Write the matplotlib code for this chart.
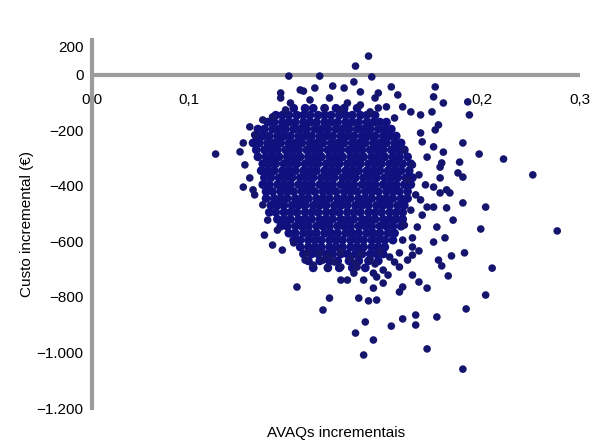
import matplotlib
matplotlib.use("Agg")
import matplotlib.pyplot as plt

plt.rcParams['font.family'] = ['Liberation Sans', 'DejaVu Sans']

# ---- data ----
# dense core, row by row: incremental cost (row) and incremental QALYs
core_y = [-120, -145, -170, -195, -220, -245, -270, -295, -320, -345, -370, -395,
          -420, -445, -470, -495, -520, -545, -570, -595, -620, -645, -670, -695]
core_x = [
    [0.124, 0.131, 0.136, 0.143, 0.150, 0.155, 0.163],
    [0.113, 0.117, 0.121, 0.126, 0.130, 0.134, 0.139, 0.143, 0.147, 0.152, 0.156, 0.160, 0.165, 0.169, 0.174],
    [0.108, 0.112, 0.117, 0.121, 0.125, 0.130, 0.134, 0.138, 0.143, 0.147, 0.151, 0.156, 0.160, 0.164, 0.169, 0.173, 0.177, 0.181],
    [0.102, 0.106, 0.111, 0.115, 0.119, 0.124, 0.128, 0.132, 0.137, 0.141, 0.145, 0.150, 0.154, 0.158, 0.163, 0.167, 0.171, 0.176, 0.180, 0.184],
    [0.101, 0.105, 0.109, 0.114, 0.118, 0.122, 0.127, 0.131, 0.135, 0.140, 0.144, 0.148, 0.153, 0.157, 0.161, 0.166, 0.170, 0.174, 0.179, 0.183, 0.187],
    [0.099, 0.103, 0.108, 0.112, 0.116, 0.121, 0.125, 0.129, 0.134, 0.138, 0.142, 0.147, 0.151, 0.155, 0.160, 0.164, 0.168, 0.173, 0.177, 0.181, 0.186, 0.190],
    [0.101, 0.106, 0.110, 0.114, 0.119, 0.123, 0.127, 0.132, 0.136, 0.140, 0.145, 0.149, 0.153, 0.158, 0.162, 0.166, 0.171, 0.175, 0.179, 0.184, 0.188, 0.192],
    [0.102, 0.107, 0.111, 0.115, 0.120, 0.124, 0.128, 0.133, 0.137, 0.141, 0.146, 0.150, 0.154, 0.159, 0.163, 0.167, 0.172, 0.176, 0.180, 0.185, 0.189, 0.194],
    [0.105, 0.109, 0.113, 0.118, 0.122, 0.126, 0.131, 0.135, 0.139, 0.144, 0.148, 0.152, 0.157, 0.161, 0.165, 0.170, 0.174, 0.178, 0.183, 0.187, 0.191, 0.196],
    [0.104, 0.108, 0.112, 0.117, 0.121, 0.125, 0.130, 0.134, 0.138, 0.143, 0.147, 0.151, 0.156, 0.160, 0.164, 0.169, 0.173, 0.177, 0.182, 0.186, 0.190, 0.195],
    [0.106, 0.110, 0.115, 0.119, 0.123, 0.128, 0.132, 0.136, 0.141, 0.145, 0.149, 0.154, 0.158, 0.162, 0.167, 0.171, 0.175, 0.180, 0.184, 0.188, 0.193, 0.197],
    [0.105, 0.109, 0.114, 0.118, 0.122, 0.127, 0.131, 0.135, 0.140, 0.144, 0.148, 0.153, 0.157, 0.161, 0.166, 0.170, 0.174, 0.179, 0.183, 0.187, 0.192, 0.196],
    [0.107, 0.111, 0.116, 0.120, 0.124, 0.129, 0.133, 0.137, 0.142, 0.146, 0.150, 0.155, 0.159, 0.163, 0.168, 0.172, 0.176, 0.181, 0.185, 0.189, 0.194],
    [0.107, 0.112, 0.116, 0.120, 0.125, 0.129, 0.133, 0.138, 0.142, 0.146, 0.151, 0.155, 0.159, 0.164, 0.168, 0.172, 0.177, 0.181, 0.185, 0.190, 0.194],
    [0.110, 0.114, 0.118, 0.123, 0.127, 0.131, 0.136, 0.140, 0.144, 0.149, 0.153, 0.157, 0.162, 0.166, 0.170, 0.175, 0.179, 0.183, 0.188, 0.192],
    [0.109, 0.113, 0.118, 0.122, 0.126, 0.131, 0.135, 0.139, 0.144, 0.148, 0.152, 0.157, 0.161, 0.165, 0.170, 0.174, 0.178, 0.183, 0.187, 0.191],
    [0.114, 0.118, 0.122, 0.127, 0.131, 0.135, 0.140, 0.144, 0.148, 0.153, 0.157, 0.161, 0.166, 0.170, 0.174, 0.179, 0.183, 0.187, 0.191],
    [0.116, 0.120, 0.125, 0.129, 0.133, 0.138, 0.142, 0.146, 0.151, 0.155, 0.159, 0.164, 0.168, 0.172, 0.177, 0.181, 0.185, 0.190],
    [0.121, 0.125, 0.130, 0.134, 0.138, 0.143, 0.147, 0.151, 0.156, 0.160, 0.164, 0.169, 0.173, 0.177, 0.182, 0.186],
    [0.124, 0.128, 0.133, 0.137, 0.141, 0.146, 0.150, 0.154, 0.159, 0.163, 0.167, 0.172, 0.176, 0.180, 0.185],
    [0.128, 0.133, 0.137, 0.141, 0.146, 0.150, 0.154, 0.159, 0.163, 0.167, 0.172, 0.176, 0.180],
    [0.130, 0.135, 0.139, 0.144, 0.148, 0.153, 0.157, 0.162, 0.166, 0.171, 0.175, 0.179],
    [0.133, 0.140, 0.146, 0.151, 0.158, 0.164, 0.170, 0.176],
    [0.136, 0.145, 0.152, 0.160, 0.168],
]

# scattered points around the core
fringe_x = [0.170, 0.162, 0.121, 0.140, 0.172, 0.148, 0.155, 0.161, 0.184, 0.176,
            0.116, 0.116, 0.130, 0.137, 0.146, 0.165, 0.174, 0.188, 0.181, 0.191,
            0.196, 0.176, 0.157, 0.111, 0.128, 0.211, 0.210, 0.216, 0.231, 0.232,
            0.209, 0.202, 0.213, 0.211, 0.228, 0.238, 0.253, 0.203, 0.210, 0.216,
            0.271, 0.286, 0.242, 0.228, 0.239, 0.229, 0.222, 0.212, 0.218, 0.226,
            0.228, 0.214, 0.218, 0.206, 0.225, 0.215, 0.220, 0.214, 0.210, 0.210,
            0.217, 0.213, 0.215, 0.219, 0.221, 0.246, 0.242, 0.230, 0.212, 0.228,
            0.117, 0.126, 0.142, 0.146, 0.164, 0.170, 0.175, 0.168, 0.162, 0.173,
            0.167, 0.184, 0.191, 0.199, 0.199, 0.206, 0.189, 0.191, 0.197, 0.201,
            0.206, 0.179, 0.182, 0.175, 0.179, 0.173, 0.167, 0.153, 0.157, 0.161,
            0.145, 0.136, 0.131, 0.194, 0.197, 0.076, 0.091, 0.093, 0.097, 0.105,
            0.093, 0.099, 0.105, 0.108, 0.114, 0.100, 0.124, 0.132, 0.142, 0.153,
            0.163, 0.173, 0.189, 0.197, 0.200, 0.206, 0.210, 0.202, 0.214,
            0.140, 0.146, 0.153, 0.159, 0.165, 0.171, 0.177, 0.183, 0.189, 0.201,
            0.186, 0.174, 0.162, 0.149,
            0.192, 0.197, 0.194, 0.199, 0.196, 0.201, 0.202, 0.192, 0.197, 0.203,
            0.205, 0.191,
            0.122, 0.134, 0.143, 0.153, 0.165, 0.171, 0.119, 0.186,
            0.094, 0.097, 0.100, 0.106, 0.111]
fringe_y = [68, 32, -4, -4, -7, -40, -47, -25, -43, -65,
            -65, -83, -58, -47, -83, -61, -83, -72, -115, -115,
            -133, -119, -101, -151, -54, -43, -79, -101, -97, -144,
            -133, -144, -180, -198, -245, -285, -303, -241, -259, -278,
            -360, -562, -476, -461, -555, -641, -523, -548, -479, -314,
            -368, -371, -414, -296, -353, -317, -425, -425, -476, -602,
            -587, -667, -688, -724, -652, -696, -793, -843, -872, -1060,
            -631, -764, -847, -804, -804, -814, -811, -890, -930, -955,
            -1009, -905, -879, -865, -901, -987, -782, -764, -721, -746,
            -768, -703, -721, -728, -750, -768, -739, -739, -739, -714,
            -696, -685, -667, -667, -649, -285, -277, -245, -187, -162,
            -404, -414, -468, -523, -559, -216, -605, -641, -667, -692,
            -692, -714, -692, -620, -548, -476, -404, -209, -332,
            -641, -652, -638, -660, -645, -663, -638, -656, -641, -634,
            -674, -681, -678, -674,
            -270, -324, -378, -432, -487, -360, -450, -541, -587, -505,
            -396, -595,
            -101, -90, -119, -126, -108, -133, -126, -155,
            -324, -371, -432, -577, -613]

y_ticks = [-1200, -1000, -800, -600, -400, -200, 0, 101]
y_tick_labels = ['\u22121.200', '\u22121.000', '\u2212800', '\u2212600',
                 '\u2212400', '\u2212200', '0', '200']
x_label_pos = [0.0, 0.0597, 0.240, 0.300]
x_labels = ['0,0', '0,1', '0,2', '0,3']

# ---- build point arrays ----
cxs, cys = [], []
for yv, row in zip(core_y, core_x):
    for xv in row:
        cxs.append(xv)
        cys.append(yv)

fig = plt.figure(figsize=(5.95, 4.45), dpi=100)
ax = fig.add_axes([92 / 595, 37 / 445, 488 / 595, 368 / 445])
ax.set_xlim(0, 0.3)
ax.set_ylim(-1200, 126)

ax.scatter(cxs, cys, s=40, c='#10107f', edgecolors='none', zorder=3)
ax.scatter(fringe_x, fringe_y, s=30, c='#15156e', edgecolors='none', zorder=3)

gray = '#9c9c9c'
ax.axhline(0, color=gray, lw=3, zorder=2)
for s in ['top', 'right', 'bottom']:
    ax.spines[s].set_visible(False)
ax.spines['left'].set_color(gray)
ax.spines['left'].set_linewidth(3)

ax.set_xticks([])
ax.set_yticks(y_ticks)
ax.set_yticklabels(y_tick_labels, fontsize=11)
ax.tick_params(axis='y', length=0, pad=6)

for xp, lab in zip(x_label_pos, x_labels):
    ax.text(xp, -90, lab, ha='center', va='center', fontsize=11, zorder=1)

fig.text(336 / 595, 1 - 433 / 445, 'AVAQs incrementais', ha='center', va='center', fontsize=11)
fig.text(27 / 595, 1 - 224 / 445, 'Custo incremental (\u20ac)', ha='center', va='center',
         rotation=90, fontsize=11)

fig.savefig('out.png', dpi=100)
